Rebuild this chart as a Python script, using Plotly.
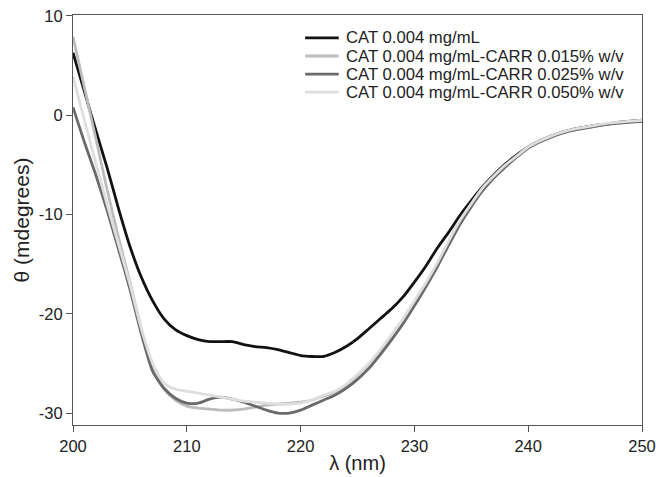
import plotly.graph_objects as go

wavelength = list(range(200, 251))

cat = [6.3, 2.4, -1.5, -5.3, -9.4, -13.2, -16.3, -18.7, -20.5, -21.6,
       -22.2, -22.6, -22.8, -22.8, -22.8, -23.1, -23.3, -23.4, -23.6, -23.9,
       -24.2, -24.3, -24.3, -23.9, -23.3, -22.5, -21.5, -20.5, -19.5, -18.3,
       -16.8, -15.2, -13.4, -11.8, -10.1, -8.6, -7.2, -6.0, -4.9, -4.0,
       -3.2, -2.6, -2.1, -1.7, -1.4, -1.2, -1.0, -0.9, -0.7, -0.6, -0.5]

carr_015 = [7.9, 2.8, -2.3, -7.5, -12.3, -16.8, -21.5, -25.5, -27.6, -28.7,
            -29.3, -29.5, -29.6, -29.7, -29.7, -29.6, -29.4, -29.2, -29.1, -29.0,
            -28.9, -28.7, -28.3, -27.9, -27.2, -26.2, -25.1, -23.7, -22.2, -20.6,
            -18.8, -17.0, -15.0, -12.8, -10.7, -9.0, -7.4, -6.2, -5.1, -4.2,
            -3.3, -2.7, -2.2, -1.8, -1.5, -1.3, -1.1, -0.9, -0.8, -0.7, -0.6]

carr_025 = [0.8, -2.7, -6.0, -9.6, -13.5, -17.5, -22.0, -25.8, -27.5, -28.5,
            -29.0, -29.0, -28.6, -28.4, -28.6, -28.9, -29.3, -29.7, -30.0, -30.0,
            -29.7, -29.2, -28.7, -28.2, -27.5, -26.6, -25.5, -24.1, -22.6, -21.0,
            -19.2, -17.3, -15.3, -13.1, -11.0, -9.2, -7.6, -6.3, -5.2, -4.2,
            -3.3, -2.7, -2.2, -1.8, -1.5, -1.3, -1.1, -0.9, -0.8, -0.7, -0.6]

carr_050 = [3.9, -0.5, -4.8, -9.0, -13.0, -17.0, -21.5, -25.0, -27.0, -27.6,
            -27.8, -28.0, -28.2, -28.4, -28.6, -28.8, -28.9, -29.0, -29.1, -29.1,
            -29.0, -28.7, -28.2, -27.8, -27.1, -26.1, -25.0, -23.6, -22.1, -20.5,
            -18.7, -16.9, -14.9, -12.7, -10.6, -8.9, -7.3, -6.1, -5.0, -4.1,
            -3.2, -2.6, -2.1, -1.7, -1.4, -1.2, -1.0, -0.8, -0.7, -0.6, -0.5]

series_names = ["CAT 0.004 mg/mL",
                "CAT 0.004 mg/mL-CARR 0.015% w/v",
                "CAT 0.004 mg/mL-CARR 0.025% w/v",
                "CAT 0.004 mg/mL-CARR 0.050% w/v"]
series_values = [cat, carr_015, carr_025, carr_050]
series_colors = ["#111111", "#bcbcbc", "#6a6a6a", "#dedede"]

x_ticks = [200, 210, 220, 230, 240, 250]
y_ticks = [-30, -20, -10, 0, 10]
y_tick_labels = ["-30", "-20", "-10", "0", "10"]

FONT = "Liberation Sans, Arial"

fig = go.Figure()
for name, vals, col in zip(series_names, series_values, series_colors):
    fig.add_trace(go.Scatter(x=wavelength, y=vals, mode="lines", name=name, showlegend=False,
                             line=dict(color=col, width=2.8, shape="spline", smoothing=0.6)))

# compact legend (tight row spacing as in the reference)
leg_x0, leg_x1, leg_tx = 0.408, 0.467, 0.477
leg_y_top, leg_dy = 0.944, 0.044
for i, (name, col) in enumerate(zip(series_names, series_colors)):
    yy = leg_y_top - i * leg_dy
    fig.add_shape(type="line", xref="paper", yref="paper", x0=leg_x0, x1=leg_x1, y0=yy, y1=yy,
                  line=dict(color=col, width=2.8))
    fig.add_annotation(xref="paper", yref="paper", x=leg_tx, y=yy, text=name, showarrow=False,
                       xanchor="left", yanchor="middle",
                       font=dict(family=FONT, size=16.7, color="#222"))

axis_common = dict(showline=True, linecolor="#555555", linewidth=1.2, mirror=True,
                   showgrid=False, zeroline=False, ticks="outside", ticklen=6,
                   tickcolor="#555555", automargin=False,
                   tickfont=dict(family=FONT, size=16.5, color="#222"))

fig.update_xaxes(range=[200, 250], tickvals=x_ticks,
                 title=dict(text="λ (nm)", font=dict(family=FONT, size=20, color="#222"), standoff=2),
                 **axis_common)
fig.update_yaxes(range=[-31.2, 10.1], tickvals=y_ticks, ticktext=y_tick_labels,
                 title=dict(text="θ (mdegrees)", font=dict(family=FONT, size=21, color="#222"), standoff=3),
                 **axis_common)

fig.update_layout(
    width=656, height=477,
    margin=dict(l=73, r=14, t=15, b=52),
    paper_bgcolor="white", plot_bgcolor="white",
    font=dict(family=FONT, size=16.5, color="#222"),
    showlegend=False,
)

fig.write_html("out.html", config={"displayModeBar": False},
               post_script="document.body.style.margin='0';document.body.style.overflow='hidden';")
